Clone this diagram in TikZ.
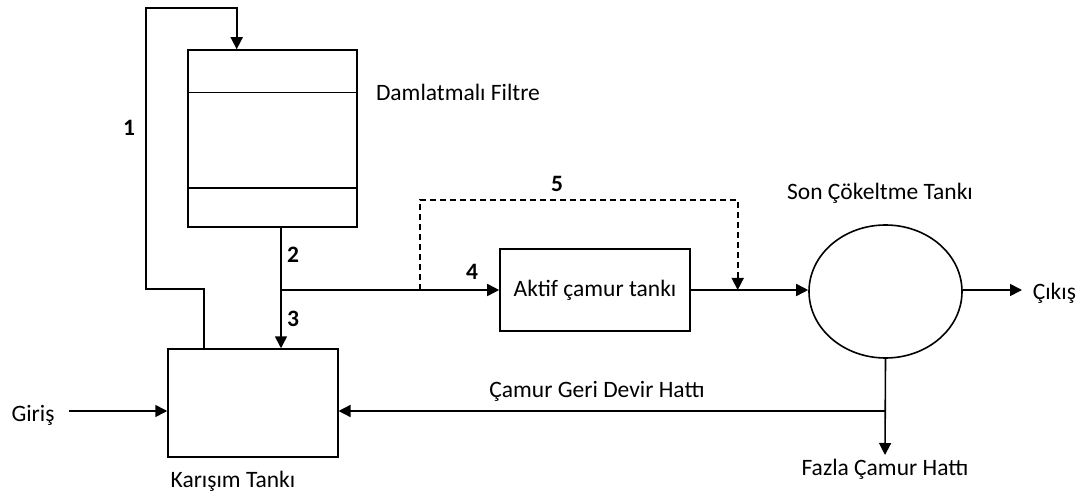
\documentclass[tikz,border=0pt]{standalone}
\usepackage{fontspec}
\setmainfont{Carlito}
\usetikzlibrary{arrows.meta,shapes.geometric}
\begin{document}
\begin{tikzpicture}[x=1pt,y=-1pt,
  line width=1.6pt,
  every node/.style={font=\fontsize{23.5}{28}\selectfont},
  unit/.style={draw,rectangle,inner sep=0pt},
  tank/.style={draw,ellipse,inner sep=0pt,minimum width=153pt,minimum height=133pt},
  lbl/.style={inner sep=0pt},
  num/.style={inner sep=0pt,font=\fontsize{23.5}{28}\selectfont\bfseries},
  flow/.style={-{Triangle[length=12pt,width=12pt]}},
  bypass/.style={flow,dashed,dash pattern=on 6pt off 4pt}]
\useasboundingbox (0,0) rectangle (1089,494);

% process units
\node[unit,minimum width=168.7pt,minimum height=176.7pt] (filt) at (272.4,138.4) {};
\node[unit,minimum width=169.7pt,minimum height=107.7pt] (mix) at (252.9,402.9) {};
\node[unit,minimum width=190pt,minimum height=82pt] (akt) at (595,290) {Aktif çamur tankı};
\node[tank] (son) at (885.5,291.5) {};

% filter media layers
\draw (filt.west |- 0,92.7) -- (filt.east |- 0,92.7);
\draw (filt.west |- 0,188.3) -- (filt.east |- 0,188.3);

% routing points
\coordinate (j) at (281,290);
\coordinate (rec) at (204,289);
\coordinate (recL) at (146,289);
\coordinate (recT) at (146,8);
\coordinate (feed) at (236.7,8);
\coordinate (bp) at (420,290);
\coordinate (bpT) at (737.7,200);
\coordinate (bpJ) at (737.7,290);
\coordinate (out) at (1022,290);
\coordinate (ret) at (885,411);
\coordinate (waste) at (885,455);
\coordinate (in) at (69,411);

% recirculation loop 1
\draw[flow] (rec |- mix.north) -- (rec) -- (recL) -- (recT) -- (feed) -- (feed |- filt.north);
% filter effluent 2 / 3
\draw[flow] (j |- filt.south) -- (j |- mix.north);
% line 4 to activated sludge tank
\draw[flow] (j) -- (akt.west);
% bypass 5
\draw[bypass] (bp) |- (bpT) -- (bpJ);
% to final clarifier and outlet
\draw[flow] (akt.east) -- (son.west |- akt.east);
\draw[flow] (son.east |- out) -- (out);
% sludge return and excess sludge
\draw[flow] (son.south) -- (waste);
\draw[flow] (ret) -- (mix.east |- ret);
\draw[flow] (in) -- (mix.west |- in);

% labels
\node[lbl] at (458,92) {Damlatmalı Filtre};
\node[lbl] at (880,193) {Son Çökeltme Tankı};
\node[lbl,anchor=west] at (1032,293) {Çıkış};
\node[lbl] at (597,391) {Çamur Geri Devir Hattı};
\node[lbl] at (885,469) {Fazla Çamur Hattı};
\node[lbl] at (233,481) {Karışım Tankı};
\node[lbl] at (33,415) {Giriş};
\node[num] at (129,128) {1};
\node[num] at (293,255) {2};
\node[num] at (293,319) {3};
\node[num] at (472,272) {4};
\node[num] at (557,184) {5};
\end{tikzpicture}
\end{document}
